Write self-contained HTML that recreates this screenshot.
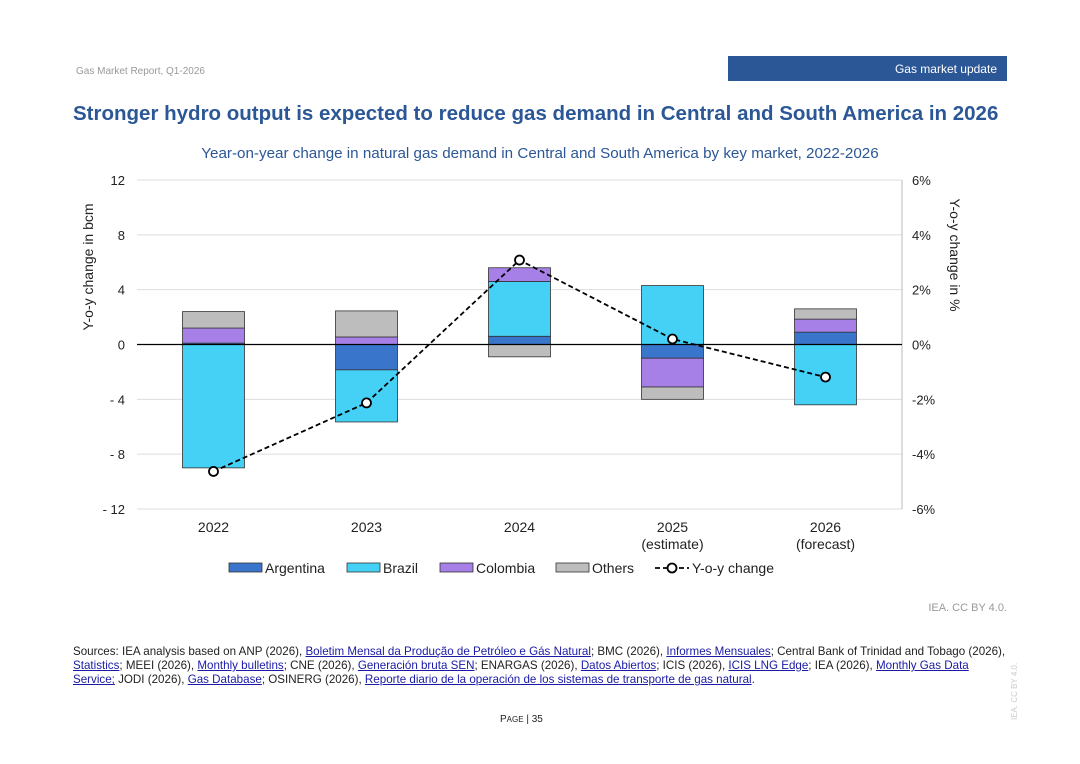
<!DOCTYPE html>
<html><head><meta charset="utf-8">
<style>
body{margin:0;width:1080px;height:764px;background:#fff;font-family:"Liberation Sans",sans-serif;position:relative;overflow:hidden}
.a{position:absolute}
a{color:#1a1aa6;text-decoration:underline}
</style></head><body>
<div class="a" style="left:76px;top:66px;font-size:10px;color:#999">Gas Market Report, Q1-2026</div>
<div class="a" style="left:728px;top:56px;width:279px;height:25px;background:#2b5797;color:#fff;font-size:12px;text-align:right;box-sizing:border-box;padding:6px 10px 0 0">Gas market update</div>
<div class="a" style="left:73px;top:102px;font-size:20.5px;font-weight:bold;color:#2b5797">Stronger hydro output is expected to reduce gas demand in Central and South America in 2026</div>
<svg class="a" style="left:0;top:0" width="1080" height="600" id="chart">
<text x="540" y="158" text-anchor="middle" font-size="15.2" fill="#2b5797">Year-on-year change in natural gas demand in Central and South America by key market, 2022-2026</text>
<text transform="translate(93,267) rotate(-90)" text-anchor="middle" font-size="14" fill="#222">Y-o-y change in bcm</text>
<text transform="translate(950,255) rotate(90)" text-anchor="middle" font-size="14" fill="#222">Y-o-y change in %</text>
<g id="g"></g>
</svg>
<div class="a" style="left:900px;top:602px;width:107px;text-align:right;font-size:11px;color:#999">IEA. CC BY 4.0.</div>
<div class="a" style="left:73px;top:645px;white-space:nowrap;font-size:11.6px;line-height:14px;color:#222">Sources: IEA analysis based on ANP (2026), <a>Boletim Mensal da Produção de Petróleo e Gás Natural</a>; BMC (2026), <a>Informes Mensuales</a>; Central Bank of Trinidad and Tobago (2026),<br><a>Statistics</a>; MEEI (2026), <a>Monthly bulletins</a>; CNE (2026), <a>Generación bruta SEN</a>; ENARGAS (2026), <a>Datos Abiertos</a>; ICIS (2026), <a>ICIS LNG Edge</a>; IEA (2026), <a>Monthly Gas Data<br>Service;</a> JODI (2026), <a>Gas Database</a>; OSINERG (2026), <a>Reporte diario de la operación de los sistemas de transporte de gas natural</a>.</div>
<div class="a" style="left:500px;top:714px;font-size:10px;color:#222">P<span style="font-size:8px">AGE</span> | 35</div>
<div class="a" style="left:1010px;top:720px;transform:rotate(-90deg);transform-origin:0 0;font-size:8px;color:#ccc">IEA. CC BY 4.0.</div>
<script>
const years=["2022","2023","2024","2025","2026"];
const years2=["","","","(estimate)","(forecast)"];
const argentina=[0.1,-1.85,0.6,-1.0,0.9];
const brazil=[-9.0,-3.8,4.0,4.3,-4.4];
const colombia=[1.1,0.55,1.0,-2.1,0.95];
const others=[1.2,1.9,-0.9,-0.9,0.75];
const yoy=[-4.63,-2.13,3.08,0.2,-1.19];
const leftTicks=[12,8,4,0,-4,-8,-12];
const rightTicks=[6,4,2,0,-2,-4,-6];
const series=[["Argentina",argentina,"#3a75cc"],["Brazil",brazil,"#45d1f6"],["Colombia",colombia,"#a680e6"],["Others",others,"#bdbdbd"]];
const X0=137,X1=902,Y0=180,Y1=509;
const y=v=>Y0+(12-v)/24*(Y1-Y0);
const y2=v=>Y0+(6-v)/12*(Y1-Y0);
const xc=i=>X0+(i+0.5)*(X1-X0)/years.length;
const g=document.getElementById('g');
const NS="http://www.w3.org/2000/svg";
function mk(t,a){const e=document.createElementNS(NS,t);for(const k in a)e.setAttribute(k,a[k]);g.appendChild(e);return e;}
leftTicks.forEach((t,i)=>{
 if(t!==0){const l=mk('line',{x1:X0,x2:X1,y1:y(t),y2:y(t),stroke:'#ddd'});
 
 }
 const e=mk('text',{x:125,y:y(t)+5,'text-anchor':'end','font-size':13,fill:'#222'});e.textContent=(t<0?'- '+(-t):t);
 
 
 const r=mk('text',{x:912,y:y2(rightTicks[i])+5,'font-size':13,fill:'#222'});r.textContent=rightTicks[i]+'%';
 
 
});
const ax=mk('line',{x1:X1,x2:X1,y1:Y0,y2:Y1,stroke:'#bbb'});


const bw=62;
years.forEach((yr,i)=>{
 let pos=0,neg=0;
 series.forEach(([n,vals,c])=>{
  const v=vals[i];let a,b;
  if(v>=0){a=pos;b=pos+v;pos=b;}else{a=neg;b=neg+v;neg=b;}
  const r=mk('rect',{x:xc(i)-bw/2,y:Math.min(y(a),y(b)),width:bw,height:Math.abs(y(a)-y(b)),fill:c,stroke:'#333','stroke-width':0.8});
  
  
 });
 const t=mk('text',{x:xc(i),y:532,'text-anchor':'middle','font-size':14,fill:'#222'});t.textContent=yr;
 
 
 if(years2[i]){const t2=mk('text',{x:xc(i),y:549,'text-anchor':'middle','font-size':14,fill:'#222'});t2.textContent=years2[i];
 
 }
});
const zl=mk('line',{x1:X0,x2:X1,y1:y(0),y2:y(0),stroke:'#000','stroke-width':1.2});


const pl=mk('polyline',{points:yoy.map((v,i)=>xc(i)+','+y2(v)).join(' '),fill:'none',stroke:'#000','stroke-width':1.8,'stroke-dasharray':'5,3'});


yoy.forEach((v,i)=>{const c=mk('circle',{cx:xc(i),cy:y2(v),r:4.5,fill:'#fff',stroke:'#000','stroke-width':1.8});
 
 });
const lx=[229,347,440,556];
series.forEach(([n,v,c],i)=>{
 const r=mk('rect',{x:lx[i],y:563,width:33,height:9,fill:c,stroke:'#333','stroke-width':0.8});
 
 
 const t=mk('text',{x:lx[i]+36,y:573,'font-size':14,fill:'#222'});t.textContent=n;
 
 
});
const ll=mk('line',{x1:655,x2:689,y1:568,y2:568,stroke:'#000','stroke-width':1.8,'stroke-dasharray':'5,3'});


const lc=mk('circle',{cx:672,cy:568,r:4.5,fill:'#fff',stroke:'#000','stroke-width':1.8});


const lt=mk('text',{x:692,y:573,'font-size':14,fill:'#222'});lt.textContent='Y-o-y change';


</script>
</body></html>
